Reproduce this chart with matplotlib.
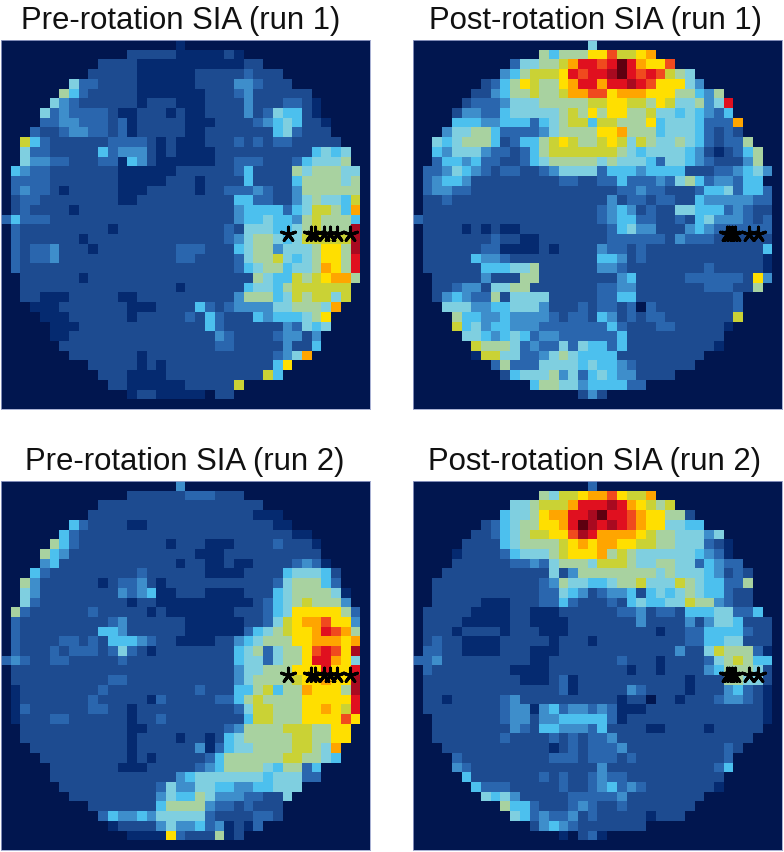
import numpy as np
import matplotlib
matplotlib.use("Agg")
import matplotlib.pyplot as plt
from matplotlib.colors import ListedColormap

# level codes, one character per cell (0 = background)
# grouped in tens so the columns can be checked by eye
pre_run1 = [
    "0000000000 0000000010",
    "0000000000 0002222211 11121",
    "0000000000 2222111111 1111122",
    "0000000002 2222111111 2222232220",
    "0000000633 2222111111 2222443222",
    "0000007532 2222111111 1222342222 22",
    "0000064322 2222122211 1222242223 321",
    "0000634333 3211222121 1222242365 521",
    "0000334433 3231222221 1122223456 5221",
    "0003223443 3231222221 1222222256 3222",
    "0085322222 2333321211 1222323233 22222",
    "0063322222 5344421211 1122222222 22565 6",
    "0064433222 3315421111 1122333222 356667",
    "0543322222 2211111122 2222352222 7677766",
    "0333322222 2211111222 1222252222 5777767",
    "0343321222 2211122222 1223334322 4777777",
    "0233222222 2211222222 2222553322 4676658",
    "0232222122 2222222222 2222455553 568875a",
    "3533322222 2222222222 2222455655 4787775",
    "0322222222 2122222222 2223266655 6787 77d",
    "0322222212 2222222222 2223467765 6888 88d",
    "0323342221 2222222233 3222567746 66799 7d",
    "0323342222 2222222233 2222367786 56799 7c",
    "0322222222 2222222222 2222356775 667a97c",
    "0022222212 2222222222 2222227655 878 9aa7",
    "0022222222 2222222212 2222256657 888888",
    "0022111222 2211222222 2222477756 8788 68",
    "0001112222 2221112222 5323444466 7776a",
    "0000111222 2221222223 2532225455 5679",
    "0000011122 2222222222 2532222224 3656",
    "0000011222 2222222222 2243222234 424",
    "0000002222 2222222222 2233222224 225",
    "0000000222 2222122222 2222222234 6a",
    "0000000002 2222121222 2222222259",
    "0000000000 2221111222 2222222850",
    "0000000000 0221111112 2222800000",
    "0000000000 0001221111 1022000000",
    "0000000000",
]

post_run1 = [
    "0000000000 0000000060",
    "0000000000 0007577799 b889a",
    "0000000000 366778accb ceca99b",
    "0000000004 578889cbcc decbcb8760",
    "0000000235 798779acca ccdcb99964",
    "0000002245 778778aabb 9aaa999775 47",
    "0000023334 6667777788 9988798667 46c",
    "0000244335 6666678797 9977866565 435",
    "0000555445 5535678858 8777956665 333a",
    "0004667753 3334677779 9a77756665 3232",
    "0065677752 3557898778 9868766765 32337",
    "0054666433 2357888888 8765666654 212357",
    "0035545332 2356777776 7666536654 322247",
    "0334654323 3223466663 5554555522 2334564",
    "0345542222 2222233223 3533343675 344355",
    "0344332222 2222222222 2334332223 5563553",
    "0223222222 2222222222 4233233225 4444433",
    "0222222222 2222222223 4542322665 5534322",
    "3222222222 2222222223 4553322325 6444323",
    "0222212121 1222222222 3564422245 4333333",
    "0222222232 2112222222 3333332433 3222222",
    "0222222331 1112122224 3323222222 2222225",
    "0222225443 2222222225 5423222222 2222221",
    "0222222555 6672222224 4322222222 3222221",
    "0022222422 2772222222 2452222233 3333294",
    "0022344266 7722222223 3442222222 333227",
    "0024543372 6666222223 3552222222 2223",
    "0006664455 6664222323 3230322222 2223",
    "0000755445 4444323325 4232332222 2228",
    "0000856455 4443333333 5322233222 221",
    "0000066545 6534433333 3522222222 22",
    "0000008777 6343363655 3522222222 21",
    "0000001886 6334676555 5222222222",
    "0000000037 3336666565 5432222220",
    "0000000002 5666746356 5442222000",
    "0000000000 0057766455 5533",
    "0000000000 0000000242",
    "0000000000",
]

pre_run2 = [
    "0000000000 0000000040",
    "0000000000 0002222223 3322200000",
    "0000000000 2222222222 2222222000",
    "0000000002 2222222222 2222221110",
    "0000000532 2221122222 2222222211",
    "0000005322 2222222222 2222222222 11",
    "0000075322 2222222122 2111222232 221",
    "0000754222 2222222222 1112222222 222",
    "0000452222 2222222212 2112112222 3431",
    "0005322222 2222322222 2111122225 66652",
    "0074222222 1233421222 2222222236 77753",
    "0064222222 2243451122 2111122256 777761",
    "0063222222 2221221111 1111112356 787774",
    "0732222223 2222212111 1111222356 9999973",
    "0322222222 2342222221 1111122368 9aab994",
    "0322222222 5542222221 1111135678 99acba7",
    "0322223323 2555432211 1122456777 99aaa9a",
    "0322232333 2363212222 2222567367 79bcb9d",
    "3432233222 2232222222 2222566367 79cca96",
    "0222222222 2222222222 2222466777 999c99c",
    "0222222222 2332222222 2222467777 899a99d",
    "0122222222 3222222222 3222557857 7a9997d",
    "0122222223 2222213222 2233578777 799999c",
    "0132222223 3221222222 2222368877 799a98c",
    "0122233222 2221223222 2222258877 79999b9",
    "0022222222 2221122222 2223477778 887799",
    "0022222222 2221222212 2125677777 887799",
    "0002222222 2221222222 4135667777 8876a",
    "0000222222 2221212222 2357777778 87765",
    "0000022222 2211122222 3457777657 735",
    "0000022222 2222222245 6666666566 633",
    "0000002222 2222223644 6655445566 6",
    "0000000222 2222224655 7644433226",
    "0000000002 2222225777 7433232220",
    "0000000000 3544546666 6322223320",
    "0000000000 0122224644 5341213000",
    "0000000000 0001111932 2271200000",
    "0000000000",
]

post_run2 = [
    "0000000000 0000000030",
    "0000000000 00076889aa b988a",
    "0000000000 667888accc dca9878",
    "0000000005 6679aaccde ccba997720",
    "0000000235 67799acedc dcba996655",
    "0000002235 678899bdca aaa9877666 46",
    "0000022225 6777789a9a a998877666 321",
    "0000122223 566678999a 7876666665 431",
    "0000222222 3343677768 8876677663 5433",
    "0002222222 2222624777 7777767666 54232",
    "0022222222 2223476655 6778666876 55337",
    "0022222222 2223365423 4452565676 55322",
    "0022222111 2223353222 3256556687 74322",
    "0222221111 2211122222 2334233255 566335",
    "0222211111 2211112222 2224222242 4665222",
    "0222122221 2221112222 2222212233 5555322",
    "0232211112 2222122212 2222222233 5566222",
    "0332211112 2211122222 2222222422 6877731",
    "3342222222 2211222222 2322212222 3678755",
    "0322222222 1111222222 2212212222 4577762",
    "0222222222 2111231222 2222222212 2277662",
    "0222222222 2222231222 2243222212 2245321",
    "0221222223 4222222222 2122022122 2344321",
    "0222222223 4414534434 3111222222 2222221",
    "0022222223 4424455555 3122222222 2222221",
    "0022222222 4325544435 2222112222 122222",
    "0022222223 2222323233 4222222222 22222",
    "0002222222 2222123233 3422222222 2232",
    "0000322222 2222333233 3232222222 223",
    "0000432222 2222222224 2222222222 235",
    "0000052222 2223232234 3322222222 22",
    "0000005333 2222232234 5343222222 21",
    "0000000656 4222223333 3422222222",
    "0000000007 5532223432 2322222220",
    "0000000000 6534334232 2222122200",
    "0000000000 0024543222 2222",
    "0000000000 0000010231",
    "0000000000",
]

titles = ["Pre-rotation SIA (run 1)", "Post-rotation SIA (run 1)",
          "Pre-rotation SIA (run 2)", "Post-rotation SIA (run 2)"]

# electrode stars, in grid cells
pre_star_cols = [29.1, 31.4, 31.8, 32.8, 33.4, 34.1, 35.4]
post_star_cols = [31.8, 32.0, 32.3, 32.7, 34.1, 35.0]
star_row = 19.5

level_colors = ["#01164f", "#052a70", "#1d4b90", "#2a66ae", "#3e8ecb",
                "#4cc0ee", "#7fcfe0", "#a8d2a0", "#cad235", "#ffdf00",
                "#ffa500", "#f04a1e", "#e0101f", "#a80a20", "#5e0010"]
cmap = ListedColormap(level_colors)


def to_grid(rows):
    # short rows are background on the right
    grid = []
    for row in rows:
        row = row.replace(" ", "").ljust(38, "0")[:38]
        grid.append([int(c, 16) for c in row])
    return np.array(grid)


W, H = 784, 853
fig = plt.figure(figsize=(W / 100, H / 100), dpi=100)

# left, top, title centre (pixels), one entry per panel
boxes = [(1, 41, 181), (413, 41, 595), (1, 482, 185), (413, 482, 595)]
panels = [pre_run1, post_run1, pre_run2, post_run2]
star_cols = [pre_star_cols, post_star_cols, pre_star_cols, post_star_cols]

for i in range(4):
    left, top, centre = boxes[i]
    ax = fig.add_axes([left / W, 1 - (top + 369) / H, 369 / W, 369 / H])
    ax.imshow(to_grid(panels[i]), cmap=cmap, vmin=-0.5, vmax=14.5,
              interpolation="none", aspect="auto")
    ax.scatter(star_cols[i], [star_row] * len(star_cols[i]), marker=(5, 2, 0),
               s=110, c="black", linewidths=2.2)
    ax.set_xticks([])
    ax.set_yticks([])
    for s in ax.spines.values():
        s.set_color("#9aa3cc")
        s.set_linewidth(0.6)
    fig.text(centre / W, 1 - (top - 12) / H, titles[i], ha="center",
             va="baseline", fontsize=22.4, family="Liberation Sans", color="#111111")

fig.savefig("out.png", dpi=100)
